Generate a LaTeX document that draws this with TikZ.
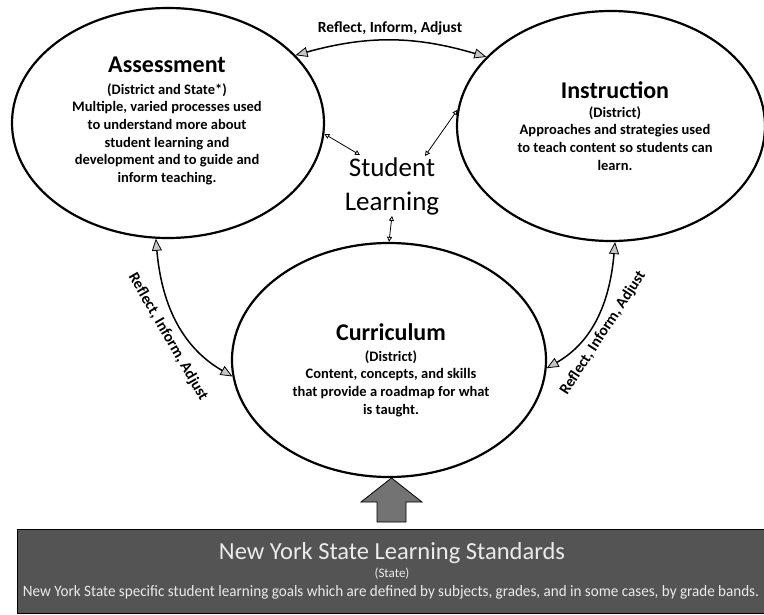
\documentclass[tikz,border=0pt]{standalone}
\usepackage{fontspec}
\setmainfont{Carlito}
\usetikzlibrary{arrows.meta,shapes.geometric}

\tikzset{
  bubble/.style={draw, ellipse, line width=2.2pt, inner sep=0pt},
  title/.style={font=\fontsize{24}{28}\selectfont\bfseries},
  body/.style={align=center, font=\fontsize{14.5}{17.6}\selectfont\bfseries},
  cyclearrow/.style={line width=1.5pt,
    {Triangle[length=12pt,width=10pt,fill=gray!45,line width=0.8pt]}-{Triangle[length=12pt,width=10pt,fill=gray!45,line width=0.8pt]}},
  linkarrow/.style={line width=0.8pt,
    {Triangle[open,length=5pt,width=5pt]}-{Triangle[open,length=5pt,width=5pt]}},
  cyclelabel/.style={font=\fontsize{15.5}{17}\selectfont\bfseries, inner sep=1pt},
  bannertext/.style={text=white!92!black, inner sep=0pt}
}

\begin{document}
\begin{tikzpicture}[x=1pt,y=-1pt]
\useasboundingbox (0,0) rectangle (764,615);

% the three bubbles of the cycle
\node[bubble, minimum width=312pt, minimum height=230pt] (assess) at (168,123) {};
\node[bubble, minimum width=308pt, minimum height=230pt] (instr) at (611,126) {};
\node[bubble, minimum width=314pt, minimum height=234pt] (curr) at (389,360) {};

% bubble texts
\node[title] (assessT) at (167,65) {Assessment};
\node[body, anchor=north] (assessB) at (167,80) {(District and State*)\\Multiple, varied processes used\\to understand more about\\student learning and\\development and to guide and\\inform teaching.};

\node[title] (instrT) at (615,90) {Instruction};
\node[body, anchor=north] (instrB) at (615,103) {(District)\\Approaches and strategies used\\to teach content so students can\\learn.};

\node[title] (currT) at (391,332) {Curriculum};
\node[body, anchor=north] (currB) at (391,347) {(District)\\Content, concepts, and skills\\that provide a roadmap for what\\is taught.};

% centre
\node[align=center, font=\fontsize{27}{34}\selectfont, inner sep=1pt] (learn) at (392,186) {Student\\Learning};

% small links to the centre
\coordinate (learnNW) at (360,155);
\coordinate (learnNE) at (425,156);
\draw[linkarrow] (assess.-4) -- (learnNW);
\draw[linkarrow] (instr.-186) -- (learnNE);
\draw[linkarrow] (learn.south) -- (curr.north);

% cycle arrows between bubbles
\draw[cyclearrow] (assess.28) to[bend left=16] (instr.151);
\draw[cyclearrow] (assess.-96) to[out=-85, in=150] (curr.186);
\draw[cyclearrow] (instr.-88) to[out=-95, in=30] (curr.-3);

% cycle labels
\node[cyclelabel] (lblTop) at (390,28) {Reflect, Inform, Adjust};
\node[cyclelabel, rotate=-60] (lblLeft) at (168,337) {Reflect, Inform, Adjust};
\node[cyclelabel, rotate=57] (lblRight) at (603,333) {Reflect, Inform, Adjust};

% standards banner
\node[draw=black, fill=black!67, minimum width=747pt, minimum height=84pt, inner sep=0pt, anchor=north west] (banner) at (17,529) {};
\node[bannertext] (bannerT) at (392,553) {\resizebox{346pt}{!}{\fontsize{22}{24}\selectfont New York State Learning Standards}};
\node[bannertext, font=\fontsize{13}{14}\selectfont] (bannerS) at (392,574) {(State)};
\node[bannertext] (bannerB) at (391,592) {\resizebox{736pt}{11pt}{\fontsize{14}{16}\selectfont New York State specific student learning goals which are defined by subjects, grades, and in some cases, by grade bands.}};

% broad arrow from the banner up to the curriculum
\filldraw[fill=black!55, draw=black, line width=0.8pt]
  (377,522) -- (377,502) -- (361,502) -- (391.5,478) -- (422,502) -- (406,502) -- (406,522) -- cycle;
\end{tikzpicture}
\end{document}
